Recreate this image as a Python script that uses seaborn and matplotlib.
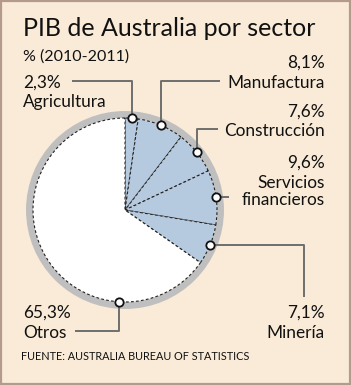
import numpy as np
import matplotlib
matplotlib.use("Agg")
import matplotlib.pyplot as plt
import seaborn as sns
from matplotlib.patches import Circle, Rectangle

# -------------------------- datos --------------------------
sectores = ['Agricultura', 'Manufactura', 'Construcción', 'Servicios\nfinancieros', 'Minería', 'Otros']
valores = [2.3, 8.1, 7.6, 9.6, 7.1, 65.3]
etiquetas = ['2,3%', '8,1%', '7,6%', '9,6%', '7,1%', '65,3%']
colores = ['#b5c9df', '#b5c9df', '#b5c9df', '#b5c9df', '#b5c9df', '#ffffff']

titulo = 'PIB de Australia por sector'
subtitulo = '% (2010-2011)'
fuente = 'FUENTE: AUSTRALIA BUREAU OF STATISTICS'

sns.set_style('white')
plt.rcParams['font.family'] = ['Lato', 'DejaVu Sans']

W, H = 351, 385
fig = plt.figure(figsize=(W / 100, H / 100), dpi=100)
fig.patch.set_facecolor('#f9ebd8')
ax = fig.add_axes([0, 0, 1, 1])

cx, cy, R = 125, H - 210, 92

# anillo gris
ax.add_patch(Circle((cx, cy), R + 3.5, facecolor='none', edgecolor='#bfbfbf', lw=5, zorder=1))

wedges, _ = ax.pie(valores, colors=colores, startangle=90, counterclock=False,
                   radius=R, center=(cx, cy),
                   wedgeprops=dict(edgecolor='#222222', linewidth=0.8, linestyle=(0, (2.5, 2))))
for w in wedges:
    w.set_zorder(2)

ax.set_xlim(0, W)
ax.set_ylim(0, H)
ax.set_aspect('auto')
ax.axis('off')

# puntos sobre el borde (mitad de cada sector; "Otros" abajo)
cum = np.cumsum([0] + valores[:-1])
frac = [(c + v / 2) / 100 for c, v in zip(cum, valores)]
frac[-1] = 0.51
ang = np.deg2rad(90 - 360 * np.array(frac))
px = cx + R * np.cos(ang)
py = cy + R * np.sin(ang)

lc = '#6e6e6e'
def linea(xs, ys):
    ax.plot(xs, [H - y for y in ys], color=lc, lw=1.4, zorder=3, solid_capstyle='butt')

linea([72, px[0], px[0]], [81, 81, H - py[0]])
linea([px[1], px[1], 220], [H - py[1], 81, 81])
linea([px[2], px[2], 218], [H - py[2], 129, 129])
linea([px[3], 229], [H - py[3], H - py[3]])
linea([px[4], 304, 304], [H - py[4], H - py[4], 297])
linea([px[5], px[5], 75], [H - py[5], 331, 331])

ax.plot(px, py, 'o', ms=6, mfc='white', mec='#111111', mew=1.3, zorder=4)

# ajustar tamaños de letra al ancho del original
rend = fig.canvas.get_renderer()
def ancho(s, size):
    t = ax.text(0, 0, s, fontsize=size)
    w = t.get_window_extent(rend).width
    t.remove()
    return w

fs_tit = 20 * 294 / ancho(titulo, 20)
fs_sub = 11 * 106 / ancho(subtitulo, 11)
fs_src = 9 * 228 / ancho(fuente, 9)
fs = 13 * (97 + 101) / (ancho('Manufactura', 13) + ancho('Construcción', 13))

def txt(x, y, s, ha='left', size=fs):
    ax.text(x, H - y, s, ha=ha, va='baseline', fontsize=size, color='#111111', zorder=5)

txt(23, 36, titulo, size=fs_tit)
txt(23, 61, subtitulo, size=fs_sub)
txt(23, 88, etiquetas[0])
txt(23, 107, sectores[0])
txt(325, 68, etiquetas[1], 'right')
txt(325, 88, sectores[1], 'right')
txt(325, 117, etiquetas[2], 'right')
txt(325, 136, sectores[2], 'right')
txt(325, 168, etiquetas[3], 'right')
txt(325, 188, 'Servicios', 'right')
txt(325, 205, 'financieros', 'right')
txt(325, 318, etiquetas[4], 'right')
txt(325, 338, sectores[4], 'right')
txt(23, 318, etiquetas[5])
txt(23, 338, sectores[5])
txt(21, 360, fuente, size=fs_src)

# marco
ax.add_patch(Rectangle((1, 1), W - 2, H - 2, facecolor='none', edgecolor='#b39a8c', lw=1.6, zorder=6))

fig.savefig('out.png', dpi=100, facecolor=fig.get_facecolor())
